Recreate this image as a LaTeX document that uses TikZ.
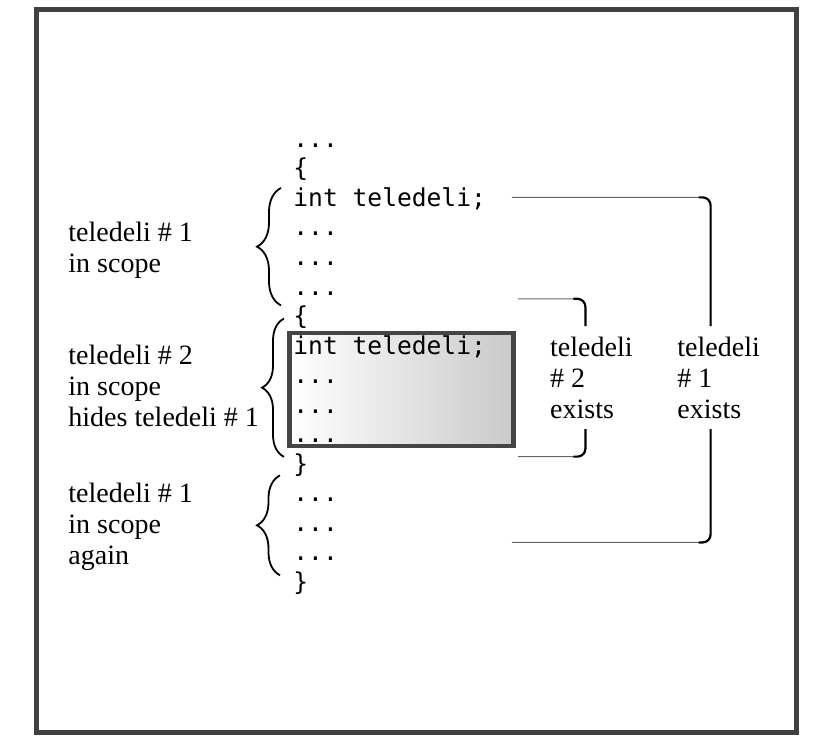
\documentclass[tikz,border=0pt]{standalone}
\usepackage{fontspec}
\setmainfont{Liberation Serif}
\setmonofont{DejaVu Sans Mono}
\usetikzlibrary{backgrounds, calc, decorations.pathreplacing, positioning}
\tikzstyle{codeline}=[on grid, inner sep=0pt, text width=108pt, align=flush left, text height=9pt, text depth=3pt, font=\fontsize{12.3}{14}\ttfamily]
\tikzstyle{note}=[inner xsep=0pt, inner ysep=5pt, align=left, font=\fontsize{14}{15.6}\selectfont]
\tikzstyle{scopebrace}=[decorate, decoration={brace, amplitude=#1}, line width=0.9pt]
\tikzstyle{lifeline}=[line width=0.5pt, draw=black!60, rounded corners=4pt]
\tikzstyle{lifebar}=[line width=1.1pt, rounded corners=4pt]
\tikzstyle{hidebox}=[draw=black!73, line width=2.2pt, left color=white, right color=black!21]
\tikzstyle{frame}=[draw=black!75, line width=2.5pt]

\begin{document}
\begin{tikzpicture}[x=0.5pt, y=-0.5pt, node distance=14.77pt]
	\useasboundingbox (0,0) rectangle (832,740);
	\draw[frame] (36.5,9.5) rectangle (796,732.5);

	% the code
	\node[codeline, anchor=west] (c0) at (293,141.3) {...};
	\node[codeline, below=of c0] (c1) {\{};
	\node[codeline, below=of c1] (c2) {int teledeli;};
	\node[codeline, below=of c2] (c3) {...};
	\node[codeline, below=of c3] (c4) {...};
	\node[codeline, below=of c4] (c5) {...};
	\node[codeline, below=of c5] (c6) {\{};
	\node[codeline, below=of c6] (c7) {int teledeli;};
	\node[codeline, below=of c7] (c8) {...};
	\node[codeline, below=of c8] (c9) {...};
	\node[codeline, below=of c9] (c10) {...};
	\node[codeline, below=of c10] (c11) {\}};
	\node[codeline, below=of c11] (c12) {...};
	\node[codeline, below=of c12] (c13) {...};
	\node[codeline, below=of c13] (c14) {...};
	\node[codeline, below=of c14] (c15) {\}};

	\begin{scope}[on background layer]
		\draw[hidebox] ([shift={(-1.75pt,1.25pt)}]c7.north west) rectangle ([shift={(1.75pt,1.55pt)}]c10.south east);
	\end{scope}

	% scopes
	\draw[scopebrace=12pt] ([shift={(-6pt,-2pt)}]c5.south west) -- ([xshift=-6pt]c2.north west);
	\draw[scopebrace=11pt] ([shift={(-4.5pt,-1.5pt)}]c11.north west) -- ([xshift=-4.5pt]c6.west);
	\draw[scopebrace=11.5pt] ([shift={(-6.5pt,-4pt)}]c14.south west) -- ([shift={(-6.5pt,4pt)}]c12.north west);

	\node[note, anchor=west] (sc1) at (68,250.5) {teledeli \# 1\\in scope};
	\node[note, anchor=west] (sc2) at (68,386) {teledeli \# 2\\in scope\\hides teledeli \# 1};
	\node[note, anchor=west] (sc3) at (68,526.5) {teledeli \# 1\\in scope\\again};

	% lifetimes
	\node[note, right=20pt of c8] (ex2) {teledeli\\\# 2\\exists};
	\node[note, right=22pt of ex2] (ex1) {teledeli\\\# 1\\exists};
	\coordinate (t1) at ([xshift=-4pt]ex1.north);
	\coordinate (b1) at ([xshift=-4pt]ex1.south);
	\coordinate (t2) at ([xshift=-3pt]ex2.north);
	\coordinate (b2) at ([xshift=-3pt]ex2.south);

	\draw[lifeline] ([shift={(1pt,1.5pt)}]c2.east) -| (t1);
	\draw[lifeline] ([xshift=1pt]c14.north east) -| (b1);
	\draw[lifeline] ([shift={(4pt,1.3pt)}]c5.south east) -| (t2);
	\draw[lifeline] ([shift={(4pt,-1.4pt)}]c11.north east) -| (b2);
	\draw[lifebar] ($(t1 |- c2.east)+(-6pt,1.5pt)$) -| (t1);
	\draw[lifebar] ($(b1 |- c14.north)+(-6pt,0pt)$) -| (b1);
	\draw[lifebar] ($(t2 |- c5.south)+(-6pt,1.3pt)$) -| (t2);
	\draw[lifebar] ($(b2 |- c11.north)+(-6pt,-1.4pt)$) -| (b2);
\end{tikzpicture}
\end{document}
